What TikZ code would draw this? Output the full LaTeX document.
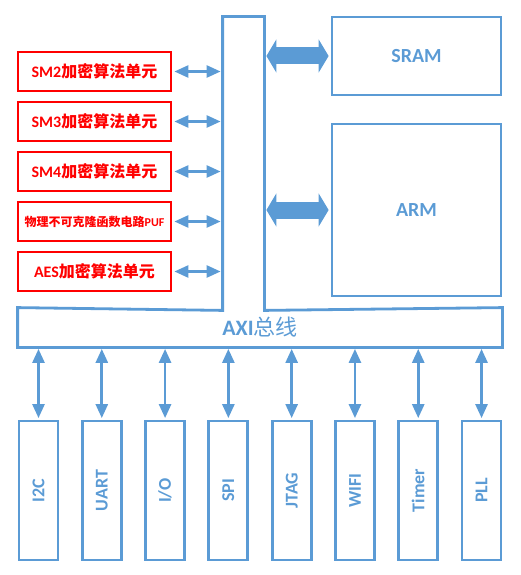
\documentclass[tikz,border=0pt]{standalone}
\usepackage{fontspec}
\usepackage{graphicx}
\usepackage{tikz}
\usetikzlibrary{arrows.meta,positioning}
\setmainfont{Carlito}
\newfontfamily\cjk{Noto Sans CJK SC}
\newcommand{\zh}[1]{{\cjk #1}}
\definecolor{bblue}{HTML}{5B9BD5}
\tikzset{
  font={\bfseries\fontsize{16pt}{18pt}\selectfont}}

\begin{document}
\begin{tikzpicture}[x=1pt, y=-1pt, node distance={50pt},
  unit/.style = {draw=red, line width=2.8pt, text=red, minimum width=153pt, minimum height=39pt, inner sep=0pt},
  blk/.style = {draw=bblue, line width=2.8pt, text=bblue, inner sep=0pt},
  bus/.style = {line width=2.6pt, bblue, {Triangle[length=14pt,width=12pt]}-{Triangle[length=14pt,width=12pt]}},
  fat/.style = {line width=17pt, bblue, {Triangle[length=10pt,width=33pt]}-{Triangle[length=10pt,width=33pt]}}]
\useasboundingbox (0,0) rectangle (521,575);
\node[unit] (sm2) at (94.5,71.5) {SM2\zh{加密算法单元}};
\node[unit] (sm3) [below of=sm2] {SM3\zh{加密算法单元}};
\node[unit] (sm4) [below of=sm3] {SM4\zh{加密算法单元}};
\node[unit, font={\bfseries\fontsize{12pt}{14pt}\selectfont}] (puf) [below of=sm4] {\zh{物理不可克隆函数电路}PUF};
\node[unit] (aes) [below of=puf] {AES\zh{加密算法单元}};

\node[blk, draw=none, minimum width=39pt, minimum height=291pt] (col) at (243.5,163.5) {};
\node[blk, draw=none, minimum width=482pt, minimum height=37pt, font={\bfseries\fontsize{22pt}{24pt}\selectfont}] (axi) at (260,327.5) {AXI\zh{\mdseries 总线}};
\draw[bblue, line width=2.8pt] (axi.north west) -- (col.south west) -- (col.north west) -- (col.north east) -- (col.south east) -- (axi.north east) -- (axi.south east) -- (axi.south west) -- cycle;

\node[blk, minimum width=169pt, minimum height=78pt, font={\bfseries\fontsize{20pt}{22pt}\selectfont}] (sram) at (416.5,56) {SRAM};
\node[blk, minimum width=169pt, minimum height=172pt, font={\bfseries\fontsize{20pt}{22pt}\selectfont}] (arm) at (416.5,210) {ARM};

\foreach \n in {sm2,sm3,sm4,puf,aes}
  \draw[bus] ([xshift=2pt]\n.east) -- ([xshift=-2pt]col.west |- \n);
\draw[fat] ([xshift=2pt]col.east |- sram) -- ([xshift=-2pt]sram.west);
\draw[fat] ([xshift=2pt]col.east |- arm) -- ([xshift=-2pt]arm.west);

\foreach \p/\t [count=\i from 0] in {i2c/I2C,uart/UART,io/{I/O},spi/SPI,jtag/JTAG,wifi/WIFI,timer/Timer,pll/PLL} {
  \node[blk, minimum width=39pt, minimum height=139pt, font={\bfseries\fontsize{18pt}{20pt}\selectfont}] (\p) at ({38.5+63.29*\i},490.5) {\rotatebox{90}{\t}};
  \draw[bus] ([yshift=-1.5pt]axi.south -| \p) -- ([yshift=1.5pt]\p.north);
}
\end{tikzpicture}
\end{document}
